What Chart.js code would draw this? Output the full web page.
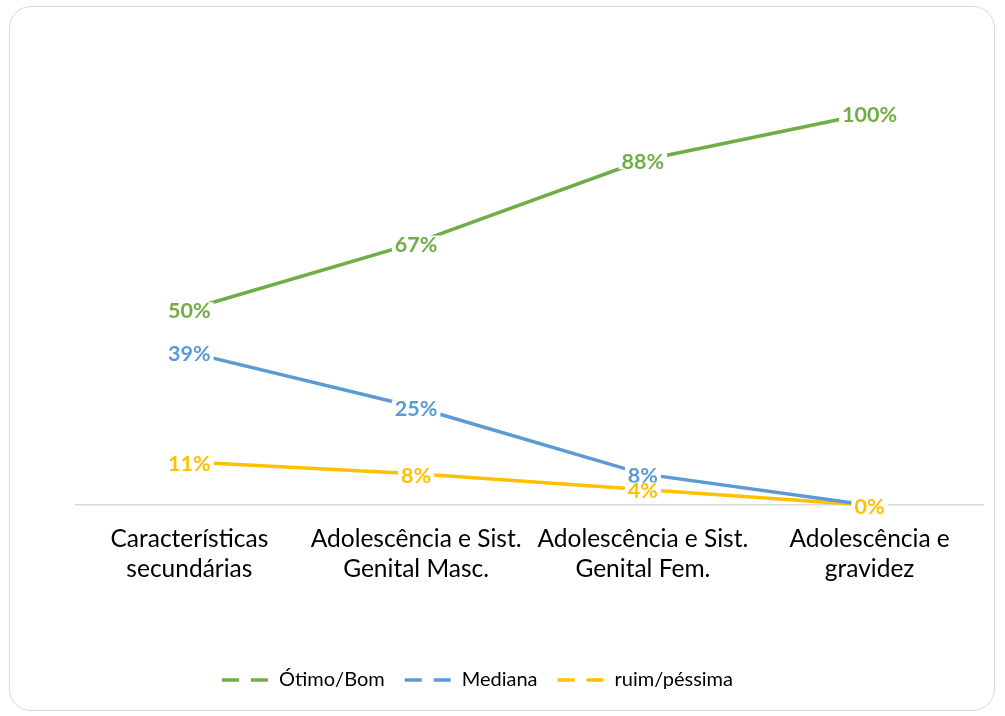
<!DOCTYPE html>
<html>
<head>
<meta charset="utf-8">
<script src="https://cdn.jsdelivr.net/npm/chart.js@4"></script>
<style>
  html, body { margin: 0; padding: 0; background: #fff; }
  #frame { position: absolute; left: 9px; top: 6px; width: 986px; height: 705px; border: 1.5px solid #d9d9d9; border-radius: 22px; box-sizing: border-box; }
  #wrap { position: absolute; left: 0; top: 0; width: 1005px; height: 716px; }
</style>
</head>
<body>
<div id="frame"></div>
<div id="wrap"><canvas id="c"></canvas></div>
<script>
const categories = [
  ["Características", "secundárias"],
  ["Adolescência e Sist.", "Genital Masc."],
  ["Adolescência e Sist.", "Genital Fem."],
  ["Adolescência e", "gravidez"]
];
const seriesNames = ["Ótimo/Bom", "Mediana", "ruim/péssima"];
const otimoBom = [50, 67, 88, 100];
const mediana = [39, 25, 8, 0];
const ruimPessima = [11, 8, 4, 0];
const seriesColors = ["#70AD47", "#5B9BD5", "#FFC000"];

const FONT = "Lato, 'Open Sans', sans-serif";

const dataLabels = {
  id: 'dataLabels',
  afterDatasetsDraw(chart) {
    const ctx = chart.ctx;
    ctx.save();
    ctx.font = "bold 21.5px " + FONT;
    ctx.textAlign = 'center';
    ctx.textBaseline = 'middle';
    chart.data.datasets.forEach((ds, di) => {
      const meta = chart.getDatasetMeta(di);
      meta.data.forEach((pt, i) => {
        const txt = ds.data[i] + '%';
        const w = ctx.measureText(txt).width;
        const x = pt.x, y = pt.y + 1;
        ctx.fillStyle = '#ffffff';
        ctx.fillRect(x - w / 2 - 3, y - 8, w + 6, 16);
        ctx.fillStyle = ds.borderColor;
        ctx.fillText(txt, x, y + 1);
      });
    });
    ctx.restore();
  }
};

const legendShift = {
  id: 'legendShift',
  afterLayout(chart) {
    const lg = chart.legend;
    if (lg) { lg.left -= 52; lg.right -= 52; }
  }
};

new Chart(document.getElementById('c'), {
  type: 'line',
  data: {
    labels: categories,
    datasets: [
      { label: seriesNames[0], data: otimoBom, borderColor: seriesColors[0] },
      { label: seriesNames[1], data: mediana, borderColor: seriesColors[1] },
      { label: seriesNames[2], data: ruimPessima, borderColor: seriesColors[2] }
    ].map(d => Object.assign(d, { borderWidth: 3.5, pointRadius: 0, pointHoverRadius: 0, tension: 0, fill: false, clip: false, backgroundColor: d.borderColor }))
  },
  options: {
    responsive: true,
    maintainAspectRatio: false,
    animation: false,
    events: [],
    layout: { padding: { left: 76, right: 22, top: 74, bottom: 16 } },
    scales: {
      y: { display: false, min: 0, max: 110 },
      x: {
        offset: true,
        grid: { display: false, drawTicks: false },
        border: { display: true, color: '#d9d9d9', width: 1.5 },
        ticks: { color: '#000', font: { family: FONT, size: 24.5, lineHeight: 1.22 }, padding: 19, maxRotation: 0, autoSkip: false },
        afterFit(scale) { scale.height += 47; }
      }
    },
    plugins: {
      tooltip: { enabled: false },
      legend: {
        position: 'bottom',
        labels: {
          color: '#000',
          font: { family: FONT, size: 20 },
          usePointStyle: true,
          pointStyleWidth: 47,
          padding: 20,
          generateLabels(chart) {
            return chart.data.datasets.map((ds, i) => ({
              text: ds.label,
              fillStyle: 'rgba(0,0,0,0)',
              strokeStyle: ds.borderColor,
              lineWidth: 3.5,
              lineDash: [17, 12],
              pointStyle: 'line',
              hidden: false,
              datasetIndex: i,
              fontColor: '#000'
            }));
          }
        }
      }
    }
  },
  plugins: [dataLabels, legendShift]
});
</script>
</body>
</html>
